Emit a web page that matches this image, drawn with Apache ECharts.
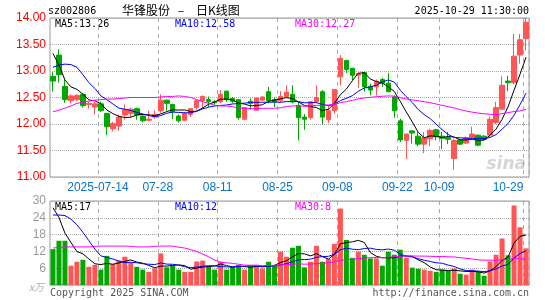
<!DOCTYPE html>
<html>
<head>
<meta charset="utf-8">
<script src="https://cdn.jsdelivr.net/npm/echarts@6/dist/echarts.min.js"></script>
<style>
  html, body { margin: 0; padding: 0; background: #fff; }
  #main { width: 545px; height: 300px; }
</style>
</head>
<body>
<div id="main"></div>
<script>
// trading days 2025-07-02 .. 2025-10-29
const days = [
  '07-02','07-03','07-04','07-07','07-08','07-09','07-10','07-11','07-14','07-15','07-16',
  '07-17','07-18','07-21','07-22','07-23','07-24','07-25','07-28','07-29','07-30','07-31',
  '08-01','08-04','08-05','08-06','08-07','08-08','08-11','08-12','08-13','08-14','08-15',
  '08-18','08-19','08-20','08-21','08-22','08-25','08-26','08-27','08-28','08-29',
  '09-01','09-02','09-03','09-04','09-05','09-08','09-09','09-10','09-11','09-12','09-15',
  '09-16','09-17','09-18','09-19','09-22','09-23','09-24','09-25','09-26','09-29','09-30',
  '10-09','10-10','10-13','10-14','10-15','10-16','10-17','10-20','10-21','10-22','10-23',
  '10-24','10-27','10-28','10-29'
];
const tickDays = ['07-14','07-28','08-11','08-25','09-08','09-22','10-09','10-29'];

const opens = [12.90,13.30,12.71,12.44,12.46,12.56,12.37,12.32,12.38,12.20,
  11.91,11.96,12.17,12.20,12.29,12.15,12.07,12.13,12.25,12.45,
  12.37,12.15,12.07,12.18,12.31,12.44,12.46,12.42,12.42,12.62,
  12.48,12.46,12.09,12.43,12.26,12.45,12.61,12.46,12.44,12.52,
  12.56,12.35,12.13,12.12,12.42,12.61,12.08,12.25,12.89,13.20,
  13.05,12.92,12.97,12.71,12.70,12.84,12.77,12.51,12.06,11.69,
  11.87,11.77,11.62,11.72,11.89,11.77,11.74,11.35,11.70,11.64,
  11.74,11.79,11.77,11.79,12.03,12.28,12.81,12.78,13.30,13.61];
const closes = [12.81,12.93,12.46,12.53,12.54,12.35,12.39,12.38,12.25,11.95,
  12.01,12.13,12.27,12.28,12.17,12.06,12.09,12.18,12.45,12.39,
  12.23,12.06,12.20,12.29,12.44,12.52,12.42,12.40,12.56,12.46,
  12.43,12.12,12.31,12.39,12.49,12.51,12.44,12.42,12.52,12.60,
  12.42,12.12,12.09,12.42,12.50,12.13,12.25,12.65,13.24,13.03,
  12.92,12.95,12.70,12.64,12.80,12.77,12.61,12.25,11.70,11.81,
  11.83,11.62,11.74,11.88,11.76,11.73,11.71,11.69,11.62,11.74,
  11.81,11.60,11.71,12.09,12.31,12.73,12.78,13.28,13.59,13.92];
const lows = [12.61,12.78,12.40,12.39,12.43,12.31,12.29,12.18,12.23,11.79,
  11.86,11.87,12.08,12.13,12.08,12.03,12.05,12.10,12.21,12.25,
  12.09,12.03,12.05,12.13,12.27,12.29,12.32,12.36,12.39,12.42,
  12.39,12.08,12.07,12.27,12.25,12.44,12.39,12.32,12.40,12.50,
  12.39,11.69,11.89,12.08,12.39,11.99,12.02,12.20,12.73,12.96,
  12.82,12.68,12.61,12.54,12.54,12.70,12.60,12.12,11.66,11.34,
  11.63,11.58,11.45,11.58,11.69,11.53,11.62,11.14,11.60,11.62,
  11.72,11.58,11.69,11.76,12.00,12.27,12.62,12.75,13.14,13.39];
const highs = [12.98,13.41,12.83,12.56,12.56,12.57,12.42,12.42,12.42,12.21,
  12.04,12.18,12.37,12.31,12.31,12.18,12.25,12.26,12.56,12.46,
  12.38,12.18,12.23,12.30,12.46,12.54,12.52,12.45,12.64,12.63,
  12.51,12.47,12.32,12.48,12.50,12.52,12.70,12.50,12.62,12.73,
  12.73,12.42,12.19,12.43,12.73,12.64,12.35,12.66,13.30,13.21,
  13.06,12.97,12.98,12.76,12.84,12.87,12.96,12.54,12.10,11.82,
  11.88,11.85,11.85,11.91,11.91,11.85,11.85,11.72,11.72,11.76,
  11.95,11.80,11.79,12.14,12.42,12.90,12.91,13.70,13.70,14.00];
// volume, 万手
const volumes = [12.8,15.8,15.8,6.9,8.3,9.0,6.5,7.2,5.5,10.4,
  7.5,8.7,10.1,8.1,6.5,5.5,4.7,5.9,11.3,6.3,
  6.9,5.5,4.7,4.7,8.4,8.7,6.5,5.5,8.3,5.5,
  6.5,7.2,5.5,6.9,7.2,5.9,8.3,6.9,11.9,10.1,
  13.3,14.0,6.3,8.3,14.0,8.3,9.3,14.7,27.3,16.1,
  9.7,11.9,10.8,9.5,9.5,6.9,11.9,10.8,12.6,9.7,
  6.2,5.8,5.5,5.1,4.7,5.5,5.1,5.9,4.0,3.7,
  5.5,4.7,3.3,8.4,10.8,16.6,10.6,28.4,20.6,13.1];

// MA values at the left edge (earlier days are not in the chart)
const ma5Head = [13.33,13.11,12.83,12.70];
const ma10Head = [13.07,13.11,13.13,13.12,13.07,12.93,12.78,12.67,12.53];
const ma30Head = [12.23,12.26,12.30,12.34,12.39,12.41,12.43,12.45,12.46,12.47,
  12.47,12.48,12.49,12.50,12.50,12.50,12.50,12.50,12.51,12.52,
  12.52,12.53,12.52,12.50,12.46,12.42,12.39,12.35,12.34];
const vma5Head = [27.6,24.1,18.5,15.2];
const vma10Head = [25.0,25.0,24.8,23.5,21.5,18.8,15.8,12.8,10.4];
const vma30Head = [13.2,13.4,13.6,13.6,13.6,13.6,13.6,13.8,13.9,13.9,
  13.9,13.9,13.9,13.8,13.6,13.6,13.6,13.8,13.9,13.9,
  13.9,13.5,13.2,12.6,12.0,11.0,10.1,8.9,8.1];

const maTexts = ['MA5:13.26', 'MA10:12.58', 'MA30:12.27'];
const vmaTexts = ['MA5:17', 'MA10:12', 'MA30:8'];

const UP = '#ff5555', DOWN = '#00a800';
const MONO = '"DejaVu Sans Mono", "Liberation Mono", monospace';
const CJK = '"Noto Sans CJK SC"';

function movingAvg(src, n, head) {
  return src.map(function (v, i) {
    if (i < head.length) return head[i];
    let s = 0;
    for (let j = i - n + 1; j <= i; j++) s += src[j];
    return +(s / n).toFixed(3);
  });
}

const kData = opens.map((o, i) => [o, closes[i], lows[i], highs[i]]);
const tickIdx = tickDays.map(d => days.indexOf(d));

const lineSeries = (name, data, color, xi, yi) => ({
  name: name, type: 'line', data: data, xAxisIndex: xi, yAxisIndex: yi,
  symbol: 'none', silent: true, lineStyle: { color: color, width: 1 }
});

// small text helper for the graphic layer
const txt = (x, y, text, fill, font, align) => ({
  type: 'text', x: x, y: y,
  style: { text: text, fill: fill, font: font || ('10px ' + MONO), align: align || 'left', verticalAlign: 'middle' }
});

const chart = echarts.init(document.getElementById('main'));

const gridLine = { show: true, lineStyle: { color: '#aaa', type: [4, 4], width: 1 } };

const option = {
  animation: false,
  backgroundColor: '#fff',
  grid: [
    { left: 50, right: 16, top: 18, height: 159, show: true, borderColor: '#999', borderWidth: 1, outerBoundsMode: 'none' },
    { left: 50, right: 16, top: 201, height: 84, show: true, borderColor: '#999', borderWidth: 1, outerBoundsMode: 'none' }
  ],
  xAxis: [
    {
      type: 'category', gridIndex: 0, data: days, boundaryGap: true,
      axisLine: { show: false }, axisTick: { show: false },
      axisLabel: {
        interval: (i) => tickIdx.includes(i),
        margin: 5,
        formatter: function (v, i) {
          const t = (i === tickIdx[0] ? '2025-' : '') + v;
          return i === days.length - 1 ? '{b|' + t + '}' : '{a|' + t + '}';
        },
        rich: {
          a: { color: '#0a72c8', font: '10px ' + MONO, padding: [0, 6, 0, 0] },
          b: { color: '#0a72c8', font: '10px ' + MONO, padding: [0, 36, 0, 0] }
        }
      },
      splitLine: Object.assign({ interval: (i) => tickIdx.includes(i) }, gridLine)
    },
    {
      type: 'category', gridIndex: 1, data: days, boundaryGap: true,
      axisLine: { show: false }, axisTick: { show: false }, axisLabel: { show: false },
      splitLine: Object.assign({ interval: (i) => tickIdx.includes(i) }, gridLine)
    }
  ],
  yAxis: [
    {
      type: 'value', gridIndex: 0, min: 11, max: 14, interval: 0.5,
      axisLine: { show: false }, axisTick: { show: false },
      axisLabel: { color: '#ff0000', font: '13px ' + MONO, margin: 4, formatter: v => v.toFixed(2) },
      splitLine: { lineStyle: { color: '#aaa', type: 'dotted' } }
    },
    {
      type: 'value', gridIndex: 1, min: 0, max: 30, interval: 6,
      axisLine: { show: false }, axisTick: { show: false },
      axisLabel: { color: '#999', font: '10px ' + MONO, margin: 4, formatter: v => (v === 0 ? '' : v) },
      splitLine: { lineStyle: { color: '#aaa', type: 'dotted' } }
    }
  ],
  series: [
    {
      name: 'K', type: 'candlestick', data: kData, xAxisIndex: 0, yAxisIndex: 0,
      barWidth: 5, silent: true,
      itemStyle: { color: UP, color0: DOWN, borderColor: UP, borderColor0: DOWN, borderWidth: 1 }
    },
    lineSeries('MA5', movingAvg(closes, 5, ma5Head), '#000', 0, 0),
    lineSeries('MA10', movingAvg(closes, 10, ma10Head), '#0000ff', 0, 0),
    lineSeries('MA30', movingAvg(closes, 30, ma30Head), '#ff00ff', 0, 0),
    {
      name: 'VOL', type: 'bar', data: volumes, xAxisIndex: 1, yAxisIndex: 1,
      barWidth: 5, silent: true,
      itemStyle: { color: p => (closes[p.dataIndex] > opens[p.dataIndex] ? UP : DOWN) }
    },
    lineSeries('VMA5', movingAvg(volumes, 5, vma5Head), '#000', 1, 1),
    lineSeries('VMA10', movingAvg(volumes, 10, vma10Head), '#0000ff', 1, 1),
    lineSeries('VMA30', movingAvg(volumes, 30, vma30Head), '#ff00ff', 1, 1)
  ],
  graphic: [
    txt(48, 11, 'sz002806', '#000'),
    // title, laid out in three pieces like the original
    txt(122, 10, '华锋股份', '#000', '12px ' + CJK),
    txt(181, 10, '–', '#000', '12px ' + CJK, 'center'),
    txt(196, 10, '日K线图', '#000', '12px ' + CJK),
    txt(529, 11, '2025-10-29 11:30:00', '#000', null, 'right'),
    txt(55, 24, maTexts[0], '#000'),
    txt(175, 24, maTexts[1], '#0000ff'),
    txt(295, 24, maTexts[2], '#ff00ff'),
    txt(55, 207, vmaTexts[0], '#000'),
    txt(175, 207, vmaTexts[1], '#0000ff'),
    txt(295, 207, vmaTexts[2], '#ff00ff'),
    txt(44, 287, 'x万', '#aaa', 'italic 10px ' + CJK, 'right'),
    txt(50, 293, 'Copyright 2025 SINA.COM', '#555'),
    txt(529, 293, 'http://finance.sina.com.cn', '#555', null, 'right'),
    Object.assign(txt(526, 165, 'sina', '#d6d6d6', 'italic bold 17px "DejaVu Sans"', 'right'), { z: -1 })
  ]
};

chart.setOption(option);
</script>
</body>
</html>
